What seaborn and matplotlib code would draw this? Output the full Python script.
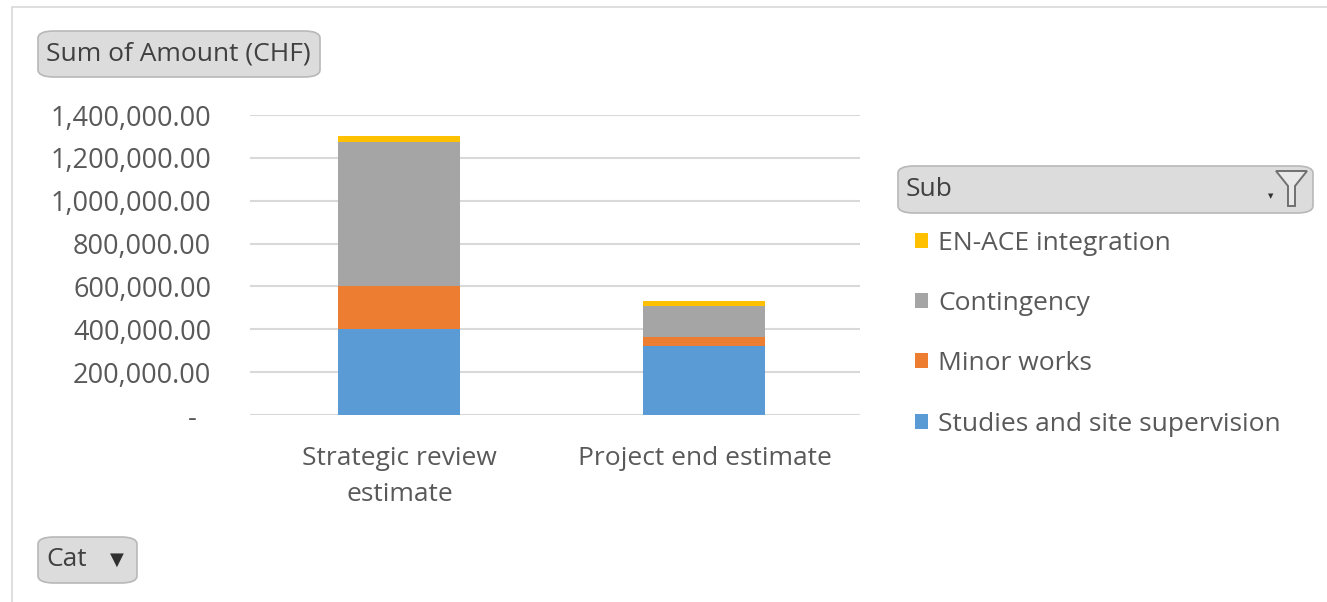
"""
Pivot chart: Sum of Amount (CHF) by Cat / Sub, stacked columns.
"""

import matplotlib
matplotlib.use("Agg")
import matplotlib.pyplot as plt
from matplotlib.patches import FancyBboxPatch, Patch, Polygon
from matplotlib.ticker import FuncFormatter
import numpy as np
import pandas as pd
import seaborn as sns

# ─── Data ─────────────────────────────────────────────────────────────────────

categories = ["Strategic review\nestimate", "Project end estimate"]
sub_names = ["Studies and site supervision", "Minor works", "Contingency", "EN-ACE integration"]
studies = [403000, 322000]
minor_works = [198000, 40000]
contingency = [673000, 149000]
en_ace = [28000, 22000]
y_ticks = [0, 200000, 400000, 600000, 800000, 1000000, 1200000, 1400000]

colors = ["#5b9bd5", "#ed7d31", "#a5a5a5", "#ffc000"]
TEXT = "#595959"
GRID = "#d9d9d9"
FS = 19

sns.set_theme(style="white")
plt.rcParams["font.family"] = ["Open Sans", "DejaVu Sans"]

# cumulative tops, drawn largest first so lower segments cover them
layers = [studies, minor_works, contingency, en_ace]
cum = np.cumsum(np.array(layers), axis=0)

fig = plt.figure(figsize=(13.27, 6.02), dpi=100)
W, H = 1327, 602
ax = fig.add_axes([250 / W, 1 - 415 / H, 610 / W, 300 / H])

for i in reversed(range(len(layers))):
    df = pd.DataFrame({"cat": categories, "val": cum[i]})
    sns.barplot(data=df, x="cat", y="val", color=colors[i], saturation=1,
                width=0.40, ax=ax, linewidth=0)

ax.set_xlim(-0.49, 1.51)
ax.set_ylim(0, 1400000)
ax.set_yticks(y_ticks)
ax.yaxis.set_major_formatter(FuncFormatter(
    lambda v, _: "-  " if v == 0 else f"{v:,.2f}"))
ax.set_axisbelow(True)
ax.grid(axis="y", color=GRID, linewidth=1.5)
ax.grid(axis="x", visible=False)
for s in ["left", "right", "top", "bottom"]:
    ax.spines[s].set_visible(False)
ax.tick_params(axis="y", length=0, pad=28, labelsize=19.5, labelcolor=TEXT)
ax.tick_params(axis="x", length=0, pad=22, labelsize=FS, labelcolor=TEXT)
for lbl in ax.get_xticklabels():
    lbl.set_linespacing(1.62)
ax.set_xlabel("")
ax.set_ylabel("")

# ─── Legend ───────────────────────────────────────────────────────────────────

handles = [Patch(facecolor=colors[i], edgecolor="none", label=sub_names[i])
           for i in reversed(range(len(layers)))]
fig.legend(handles=handles, loc="upper left",
           bbox_to_anchor=(904 / W, 1 - 220 / H), frameon=False,
           fontsize=FS, labelcolor=TEXT, handlelength=0.5, handleheight=0.5,
           handletextpad=0.4, labelspacing=1.34, borderaxespad=0)

# ─── Pivot field buttons ──────────────────────────────────────────────────────

def button(x0, y0, x1, y1, text):
    box = FancyBboxPatch((x0 / W, 1 - y1 / H), (x1 - x0) / W, (y1 - y0) / H,
                         boxstyle="round,pad=0,rounding_size=0.012",
                         transform=fig.transFigure, facecolor="#dcdcdc",
                         edgecolor="#b8b8b8", linewidth=1.2)
    fig.patches.append(box)
    fig.text((x0 + 8) / W, 1 - (y0 + y1) / 2 / H, text, fontsize=FS,
             color="#404040", va="center", ha="left")

button(38, 31, 320, 77, "Sum of Amount (CHF)")
button(38, 537, 137, 583, "Cat")
fig.text(117 / W, 1 - 560 / H, "\u25bc", fontsize=13, color="#303030",
         va="center", ha="center", family="DejaVu Sans")
button(898, 166, 1313, 213, "Sub")
fig.text(1271 / W, 1 - 196 / H, "\u25bc", fontsize=5, color="#303030",
         va="center", ha="center", family="DejaVu Sans")
funnel = Polygon([(1276 / W, 1 - 171 / H), (1307 / W, 1 - 171 / H),
                  (1295 / W, 1 - 186 / H), (1295 / W, 1 - 206 / H),
                  (1288 / W, 1 - 206 / H), (1288 / W, 1 - 186 / H)],
                 closed=True, transform=fig.transFigure,
                 facecolor="#e8e8e8", edgecolor="#707070", linewidth=1.4)
fig.patches.append(funnel)

# sheet cell lines around the chart
fig.add_artist(plt.Line2D([12 / W, 1], [1 - 7 / H, 1 - 7 / H],
                          transform=fig.transFigure, color=GRID, lw=1.2))
fig.add_artist(plt.Line2D([12 / W, 12 / W], [0, 1 - 7 / H],
                          transform=fig.transFigure, color=GRID, lw=1.2))

fig.savefig("out.png", dpi=100)
plt.close(fig)
